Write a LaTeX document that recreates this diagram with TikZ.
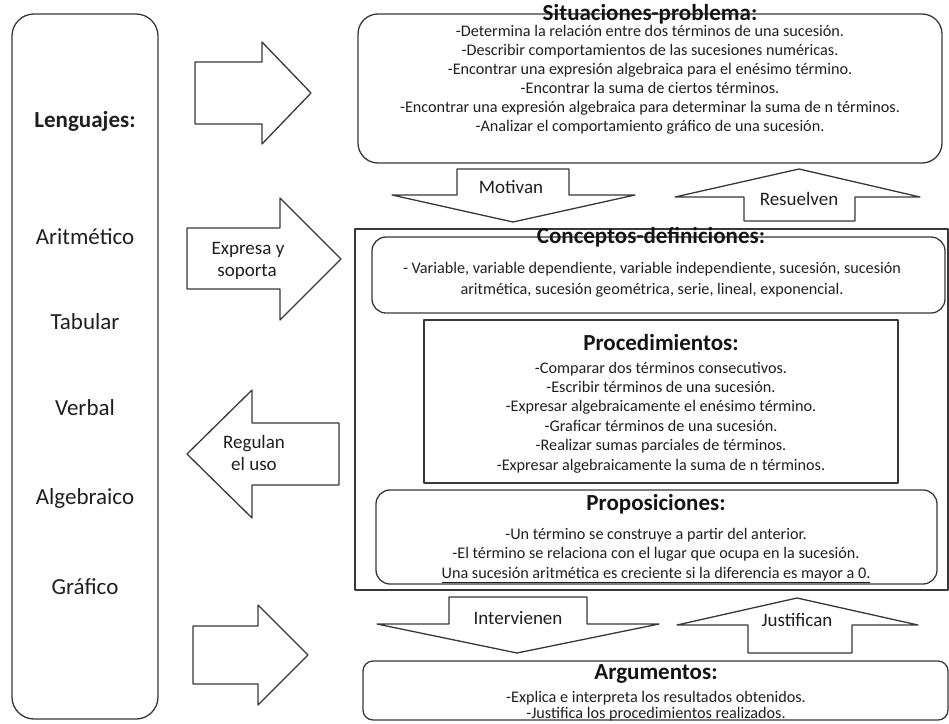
\documentclass[tikz,border=0pt]{standalone}
\usepackage{fontspec}
\setmainfont{Carlito}
\begin{document}
\begin{tikzpicture}[x=1pt,y=-1pt,
  ln/.style={draw=black!78, line width=1.3pt, line join=round},
  boxr/.style={ln, rectangle, rounded corners=#1, inner sep=0pt},
  boxs/.style={ln, rectangle, inner sep=0pt},
  body/.style={anchor=base, inner sep=0pt, text=black!88, font=\fontsize{16.2}{19}\selectfont},
  ttl/.style={anchor=base, inner sep=0pt, text=black!92, font=\fontsize{23}{26}\selectfont\bfseries},
  lang/.style={anchor=base, inner sep=0pt, text=black!88, font=\fontsize{23}{26}\selectfont},
  lbl/.style={anchor=base, inner sep=0pt, text=black!88, font=\fontsize{19}{22}\selectfont},
  blk/.style={ln, fill=white}
]
\useasboundingbox (0,0) rectangle (949,723);

% ---------- left box ----------
\node[boxr=22pt, minimum width=146pt, minimum height=705pt] (leng) at (85,366.5) {};
\node[lang, font=\fontsize{23}{26}\selectfont\bfseries] (lt) at (85,127) {Lenguajes:};
\node[lang] (l1) at (85,244) {Aritmético};
\node[lang] (l2) at (85,329) {Tabular};
\node[lang] (l3) at (85,415) {Verbal};
\node[lang] (l4) at (85,504) {Algebraico};
\node[lang] (l5) at (85,594) {Gráfico};

% ---------- big block arrows (left) ----------
\draw[blk] (195,62) -- (262,62) -- (262,42) -- (311,93) -- (262,144) -- (262,124) -- (195,124) -- cycle;
\draw[blk] (187,228) -- (280,228) -- (280,198) -- (341,259) -- (280,320) -- (280,289) -- (187,289) -- cycle;
\node[lbl] (ex1) at (248,254) {Expresa y};
\node[lbl] (ex2) at (247,276) {soporta};
\draw[blk] (339,423) -- (252,423) -- (252,390) -- (187,454) -- (252,518) -- (252,485) -- (339,485) -- cycle;
\node[lbl] (rg1) at (254,448) {Regulan};
\node[lbl] (rg2) at (254,470) {el uso};
\draw[blk] (193,626) -- (258,626) -- (258,605) -- (308,655) -- (258,705) -- (258,684) -- (193,684) -- cycle;

% ---------- Situaciones-problema ----------
\node[boxr=20pt, minimum width=584pt, minimum height=149pt] (sit) at (650,88.5) {};
\node[ttl] (sitt) at (650,20) {Situaciones-problema:};
\foreach \t [count=\i] in {
  {-Determina la relación entre dos términos de una sucesión.},
  {-Describir comportamientos de las sucesiones numéricas.},
  {-Encontrar una expresión algebraica para el enésimo término.},
  {-Encontrar la suma de ciertos términos.},
  {-Encontrar una expresión algebraica para determinar la suma de n términos.},
  {-Analizar el comportamiento gráfico de una sucesión.}}
  \node[body] (s\i) at (650,{17+19*\i}) {\t};

% ---------- Motivan / Resuelven ----------
\draw[blk] (457,169) -- (569,169) -- (569,195) -- (635,195) -- (513,222) -- (392,195) -- (457,195) -- cycle;
\node[lbl] (mot) at (511,193) {Motivan};
\draw[blk] (799,169) -- (920,197) -- (855,197) -- (855,221) -- (744,221) -- (744,197) -- (675,197) -- cycle;
\node[lbl] (res) at (799,205) {Resuelven};

% ---------- big outer rectangle ----------
\node[boxs, minimum width=593pt, minimum height=361pt] (outer) at (651.5,409.5) {};

% ---------- Conceptos-definiciones ----------
\node[boxr=14pt, minimum width=573pt, minimum height=76pt] (con) at (658.5,275) {};
\node[ttl] (cont) at (651,243) {Conceptos-definiciones:};
\node[body] (c1) at (652,273) {- Variable, variable dependiente, variable independiente, sucesión, sucesión};
\node[body] (c2) at (652,294) {aritmética, sucesión geométrica, serie, lineal, exponencial.};

% ---------- Procedimientos ----------
\node[boxs, minimum width=474pt, minimum height=163pt] (pro) at (661,401.5) {};
\node[ttl] (prot) at (661,350) {Procedimientos:};
\foreach \t [count=\i] in {
  {-Comparar dos términos consecutivos.},
  {-Escribir términos de una sucesión.},
  {-Expresar algebraicamente el enésimo término.},
  {-Graficar términos de una sucesión.},
  {-Realizar sumas parciales de términos.},
  {-Expresar algebraicamente la suma de n términos.}}
  \node[body] (p\i) at (661,{353.6+19.4*\i}) {\t};

% ---------- Proposiciones ----------
\node[boxr=14pt, minimum width=561pt, minimum height=94pt] (prp) at (656.5,537) {};
\node[ttl] (prpt) at (656,510) {Proposiciones:};
\node[body] (q1) at (656,539) {-Un término se construye a partir del anterior.};
\node[body] (q2) at (656,558.5) {-El término se relaciona con el lugar que ocupa en la sucesión.};
\node[body] (q3) at (656,578) {\underline{Una sucesión aritmética es creciente si la diferencia es mayor a 0.}};

% ---------- Intervienen / Justifican ----------
\draw[blk] (449,597) -- (587,597) -- (587,624) -- (659,624) -- (517,653) -- (377,624) -- (449,624) -- cycle;
\node[lbl] (int) at (518,624) {Intervienen};
\draw[blk] (797,598) -- (918,625) -- (852,625) -- (852,653) -- (748,653) -- (748,625) -- (677,625) -- cycle;
\node[lbl] (jus) at (797,626) {Justifican};

% ---------- Argumentos ----------
\node[boxr=10pt, minimum width=585pt, minimum height=59pt] (arg) at (655.5,690.5) {};
\node[ttl] (argt) at (656,679) {Argumentos:};
\node[body] (a1) at (656,702) {-Explica e interpreta los resultados obtenidos.};
\node[body] (a2) at (656,718.5) {-Justifica los procedimientos realizados.};
\end{tikzpicture}
\end{document}
